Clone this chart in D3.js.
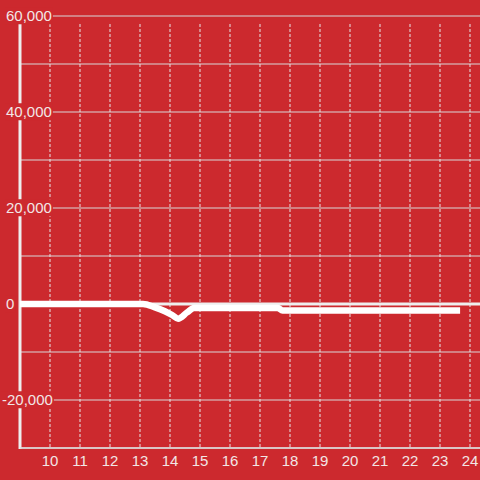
<!DOCTYPE html>
<html>
<head>
<meta charset="utf-8">
<script src="https://cdn.jsdelivr.net/npm/d3@7"></script>
<style>
    html, body { margin: 0; padding: 0; background: #cc292e; }
    svg { display: block; font-family: 'Liberation Sans', Arial, sans-serif; }
</style>
</head>
<body>
<svg id="chart" width="480" height="480"></svg>
<script>
// данные: время (часы) и значения
const times = [9, 10, 11, 12, 13, 13.1, 13.5, 13.83, 14.07, 14.27, 14.57, 14.8, 15, 16, 17, 17.6, 17.75, 18, 19, 20, 21, 22, 23, 23.67]
const values = [0, 0, 0, 0, 0, 0, -700, -1500, -2300, -3050, -1750, -850, -830, -830, -830, -830, -1350, -1350, -1350, -1350, -1350, -1350, -1350, -1350]
const xTicks = [10, 11, 12, 13, 14, 15, 16, 17, 18, 19, 20, 21, 22, 23, 24]
const yTicks = [60000, 40000, 20000, 0, -20000]
const yGrid = [60000, 50000, 40000, 30000, 20000, 10000, 0, -10000, -20000, -30000]

const bg = '#cc292e'
const svg = d3.select('#chart')

const x = d3.scaleLinear().domain([9, 24]).range([20, 470])
const y = d3.scaleLinear().domain([60000, -30000]).range([16, 448])

// горизонтальная сетка
svg.append('g')
    .selectAll('line')
    .data(yGrid)
    .join('line')
    .attr('x1', 20)
    .attr('x2', 480)
    .attr('y1', d => y(d))
    .attr('y2', d => y(d))
    .attr('stroke', '#d8d8d8')
    .attr('stroke-width', 1)

// вертикальная пунктирная сетка
svg.append('g')
    .selectAll('line')
    .data(xTicks)
    .join('line')
    .attr('x1', d => x(d))
    .attr('x2', d => x(d))
    .attr('y1', 24)
    .attr('y2', 448)
    .attr('stroke', '#e6e6e6')
    .attr('stroke-width', 1)
    .attr('stroke-dasharray', '3,2')

// нулевая линия
svg.append('line')
    .attr('x1', 20)
    .attr('x2', 480)
    .attr('y1', y(0))
    .attr('y2', y(0))
    .attr('stroke', '#eeeeee')
    .attr('stroke-width', 3)

// левая ось
svg.append('line')
    .attr('x1', 20)
    .attr('x2', 20)
    .attr('y1', 24)
    .attr('y2', 449)
    .attr('stroke', '#eeeeee')
    .attr('stroke-width', 3)

// нижняя ось
svg.append('line')
    .attr('x1', 20)
    .attr('x2', 480)
    .attr('y1', 448)
    .attr('y2', 448)
    .attr('stroke', '#dddddd')
    .attr('stroke-width', 1.5)

// линия данных
const line = d3.line()
    .x((d, i) => x(times[i]))
    .y(d => y(d))
    .curve(d3.curveMonotoneX)

svg.append('path')
    .datum(values)
    .attr('d', line)
    .attr('fill', 'none')
    .attr('stroke', '#ffffff')
    .attr('stroke-width', 6.5)
    .attr('stroke-linejoin', 'round')

// подписи оси Y с фоном
const yLabels = svg.append('g')
    .selectAll('g')
    .data(yTicks)
    .join('g')

yLabels.append('text')
    .attr('x', d => d < 0 ? 2 : 6)
    .attr('y', d => y(d))
    .attr('dy', '0.35em')
    .attr('font-size', 15)
    .attr('fill', '#f2e6e6')
    .text(d => d3.format(',')(d).replace('−', '-'))

yLabels.each(function () {
    const g = d3.select(this)
    const b = g.select('text').node().getBBox()
    g.insert('rect', 'text')
        .attr('x', b.x - 1)
        .attr('y', b.y)
        .attr('width', b.width + 2)
        .attr('height', b.height)
        .attr('fill', bg)
})

// подписи оси X
svg.append('g')
    .selectAll('text')
    .data(xTicks)
    .join('text')
    .attr('x', d => x(d))
    .attr('y', 461)
    .attr('dy', '0.35em')
    .attr('text-anchor', 'middle')
    .attr('font-size', 15)
    .attr('fill', '#f2e6e6')
    .text(d => d)
</script>
</body>
</html>
